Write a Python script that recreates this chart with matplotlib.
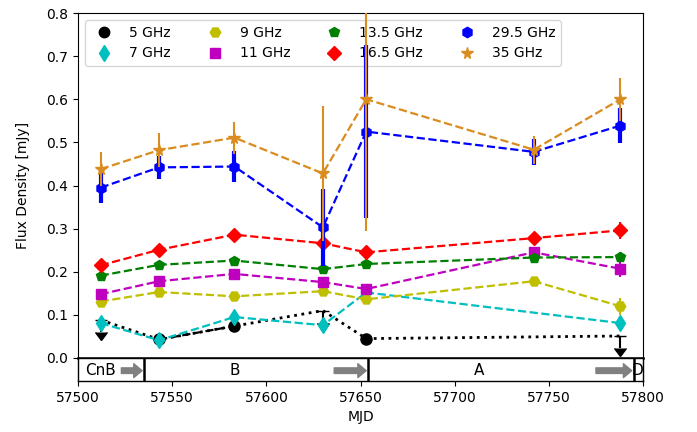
import matplotlib
matplotlib.use("Agg")
import matplotlib.pyplot as plt
from matplotlib.lines import Line2D
import numpy as np

# ---------------- data ----------------
mjd = [57512, 57543, 57583, 57630, 57653, 57742, 57788]

# 5 GHz: detections and upper limits
mjd_5_det = [57543, 57583, 57653]
flux_5_det = [0.043, 0.074, 0.045]
err_5_det = [0.005, 0.005, 0.005]
mjd_5_lim = [57512, 57630, 57788]
flux_5_lim = [0.088, 0.110, 0.051]
mjd_5_all = [57512, 57543, 57583, 57630, 57653, 57788]
flux_5_all = [0.088, 0.043, 0.074, 0.110, 0.045, 0.051]

mjd_7 = [57512, 57543, 57583, 57630, 57653, 57788]
flux_7 = [0.081, 0.041, 0.095, 0.076, 0.152, 0.081]
err_7 = [0.010, 0.008, 0.010, 0.010, 0.010, 0.016]

flux_9 = [0.131, 0.153, 0.143, 0.155, 0.136, 0.178, 0.120]
err_9 = [0.008, 0.008, 0.008, 0.008, 0.008, 0.008, 0.020]

flux_11 = [0.148, 0.178, 0.195, 0.176, 0.160, 0.245, 0.207]
err_11 = [0.008, 0.008, 0.008, 0.008, 0.008, 0.008, 0.020]

flux_13 = [0.191, 0.216, 0.226, 0.206, 0.218, 0.233, 0.234]
err_13 = [0.008, 0.008, 0.008, 0.008, 0.008, 0.008, 0.012]

flux_16 = [0.215, 0.251, 0.286, 0.266, 0.245, 0.278, 0.296]
err_16 = [0.010, 0.010, 0.010, 0.010, 0.010, 0.010, 0.020]

flux_29 = [0.395, 0.442, 0.444, 0.303, 0.525, 0.478, 0.539]
err_29 = [0.035, 0.027, 0.035, 0.090, 0.200, 0.030, 0.040]

flux_35 = [0.438, 0.482, 0.511, 0.428, 0.600, 0.483, 0.600]
err_35 = [0.040, 0.040, 0.037, 0.157, 0.305, 0.032, 0.050]

labels = ['5 GHz', '7 GHz', '9 GHz', '11 GHz', '13.5 GHz', '16.5 GHz',
          '29.5 GHz', '35 GHz']

# VLA configurations
config_names = ['CnB', 'B', 'A', 'D']
config_edges = [57535, 57654, 57795]
config_label_x = [57512, 57583, 57713, 57797]
arrow_start = [57523, 57636, 57775]
arrow_end = [57534, 57653, 57794]

# ---------------- figure ----------------
fig = plt.figure(figsize=(6.97, 4.32), dpi=100)
ax = fig.add_axes([0.112, 0.1713, 0.8106, 0.7986])
ax2 = fig.add_axes([0.112, 0.118, 0.8106, 0.0533], sharex=ax)

orange = '#DA8C1E'
ms = 7.5
lw = 1.6

# 5 GHz
ax.plot(mjd_5_all, flux_5_all, 'k:', lw=2, zorder=2)
ax.plot(mjd_5_det[:2], flux_5_det[:2], 'k--', lw=lw, zorder=2)
ax.errorbar(mjd_5_det, flux_5_det, yerr=err_5_det, fmt='o', color='k',
            ms=ms + 0.5, elinewidth=1.5, capsize=0, zorder=3)
ax.errorbar(mjd_5_lim, flux_5_lim, yerr=0.028, uplims=True, fmt='none',
            color='k', ecolor='k', elinewidth=1.5, capsize=4, zorder=3)

series = [
    (mjd_7, flux_7, err_7, 'c', 'd', ms + 1, 1.5),
    (mjd, flux_9, err_9, 'y', 'H', ms, 1.5),
    (mjd, flux_11, err_11, 'm', 's', ms - 0.5, 1.5),
    (mjd, flux_13, err_13, 'g', 'p', ms, 1.5),
    (mjd, flux_16, err_16, 'r', 'D', ms - 0.5, 1.5),
    (mjd, flux_29, err_29, 'b', 'h', ms, 3.0),
    (mjd, flux_35, err_35, orange, '*', ms + 1, 1.5),
]
handles = [Line2D([], [], ls='none', marker='o', color='k', ms=ms)]
z = 4
for xs, ys, es, c, m, s, elw in series:
    ax.plot(xs, ys, '--', color=c, lw=lw, zorder=z)
    ax.errorbar(xs, ys, yerr=es, fmt=m, color=c, ms=s, elinewidth=elw,
                capsize=0, zorder=z + 1)
    handles.append(Line2D([], [], ls='none', marker=m, color=c, ms=s))
    z += 2

ax.set_ylim(0, 0.8)
ax.set_xlim(57500, 57800)
ax.set_yticks(np.arange(0, 0.81, 0.1))
ax.set_ylabel('Flux Density [mJy]', labelpad=12)
ax.tick_params(axis='x', which='both', bottom=False, labelbottom=False)
ax.legend(handles, labels, loc='upper left', ncol=4, fontsize=10,
          columnspacing=2.15)

# configuration panel
ax2.set_ylim(0, 1)
ax2.set_yticks([])
for e in config_edges:
    ax2.axvline(e, color='k', lw=1.8)
for name, xl in zip(config_names, config_label_x):
    ax2.text(xl, 0.45, name, ha='center', va='center', fontsize=11)
for xs_, xe_ in zip(arrow_start, arrow_end):
    ax2.annotate('', xy=(xe_, 0.45), xytext=(xs_, 0.45),
                 arrowprops=dict(facecolor='grey', edgecolor='grey',
                                 width=4, headwidth=10, headlength=6))
for sp in ax2.spines.values():
    sp.set_linewidth(1.0)
ax.spines['bottom'].set_linewidth(1.8)
ax2.set_xticks([57500, 57550, 57600, 57650, 57700, 57750, 57800])
ax2.set_xlabel('MJD')

fig.savefig('out.png', dpi=100)
